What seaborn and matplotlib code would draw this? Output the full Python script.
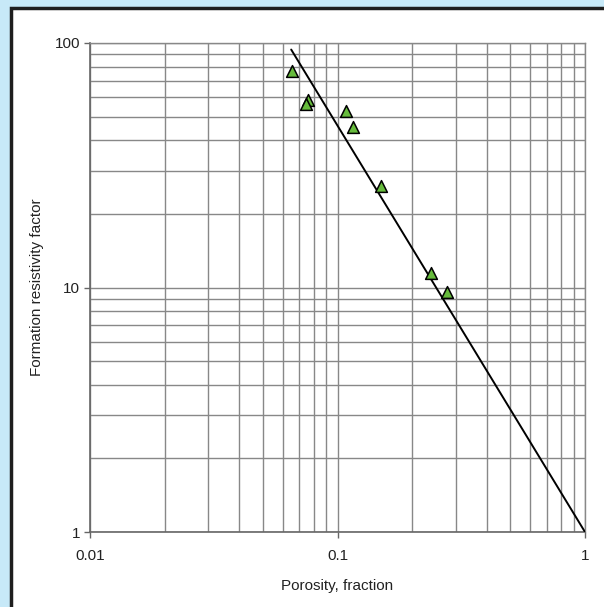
import matplotlib
matplotlib.use("Agg")
import matplotlib.pyplot as plt
import matplotlib.ticker as mticker
from matplotlib.patches import Rectangle
import seaborn as sns
import pandas as pd

# Data
porosity = [0.0656, 0.0762, 0.0747, 0.108, 0.116, 0.150, 0.238, 0.278]
formation_factor = [77.0, 58.6, 56.2, 52.8, 45.4, 26.0, 11.5, 9.6]
fit_porosity = [0.065, 1.0]
fit_factor = [94.0, 1.0]
x_ticks = [0.01, 0.1, 1]
x_tick_labels = ["0.01", "0.1", "1"]
y_ticks = [1, 10, 100]
y_tick_labels = ["1", "10", "100"]

sns.set_theme(style="white")
plt.rcParams["font.family"] = ["Liberation Sans", "DejaVu Sans"]

pts = pd.DataFrame({"porosity": porosity, "F": formation_factor})
fit = pd.DataFrame({"porosity": fit_porosity, "F": fit_factor})

W, H = 604, 607
fig = plt.figure(figsize=(W / 100, H / 100), dpi=100)
fig.patch.set_facecolor("#C7E9F8")
panel = Rectangle((11 / W, -0.02), 1.05, 1 - 8 / H + 0.02,
                  transform=fig.transFigure, facecolor="white",
                  edgecolor="#1e1e1e", linewidth=2.5, zorder=-10)
fig.patches.append(panel)

ax = fig.add_axes([90 / W, 1 - 532 / H, (585 - 90) / W, (532 - 43) / H])
ax.set_zorder(1)
ax.set_facecolor("white")
ax.set_xscale("log")
ax.set_yscale("log")
ax.set_xlim(0.01, 1)
ax.set_ylim(1, 100)

ax.grid(True, which="both", color="#888888", linewidth=1.0)
ax.set_axisbelow(True)

sns.lineplot(data=fit, x="porosity", y="F", ax=ax, color="black",
             linewidth=1.4, zorder=3)
sns.scatterplot(data=pts, x="porosity", y="F", ax=ax, marker="^", s=72,
                color="#66BB3C", edgecolor="black", linewidth=1.1, zorder=4)

ax.xaxis.set_major_locator(mticker.FixedLocator(x_ticks))
ax.xaxis.set_major_formatter(mticker.FixedFormatter(x_tick_labels))
ax.yaxis.set_major_locator(mticker.FixedLocator(y_ticks))
ax.yaxis.set_major_formatter(mticker.FixedFormatter(y_tick_labels))
ax.xaxis.set_minor_formatter(mticker.NullFormatter())
ax.yaxis.set_minor_formatter(mticker.NullFormatter())

ax.tick_params(which="major", direction="out", length=4, width=1,
               color="#666666", labelsize=11, labelcolor="#222222",
               bottom=True, left=True)
ax.tick_params(axis="x", which="major", pad=8)
ax.tick_params(axis="y", which="major", pad=3)
ax.tick_params(which="minor", length=0)

for side in ["left", "bottom"]:
    ax.spines[side].set_color("#666666")
    ax.spines[side].set_linewidth(1.2)
for side in ["top", "right"]:
    ax.spines[side].set_color("#888888")
    ax.spines[side].set_linewidth(1.0)

ax.set_xlabel("Porosity, fraction", fontsize=11, color="#222222", labelpad=12)
ax.set_ylabel("Formation resistivity factor", fontsize=11, color="#222222",
              labelpad=8)

fig.savefig("out.png", dpi=100, facecolor=fig.get_facecolor())
